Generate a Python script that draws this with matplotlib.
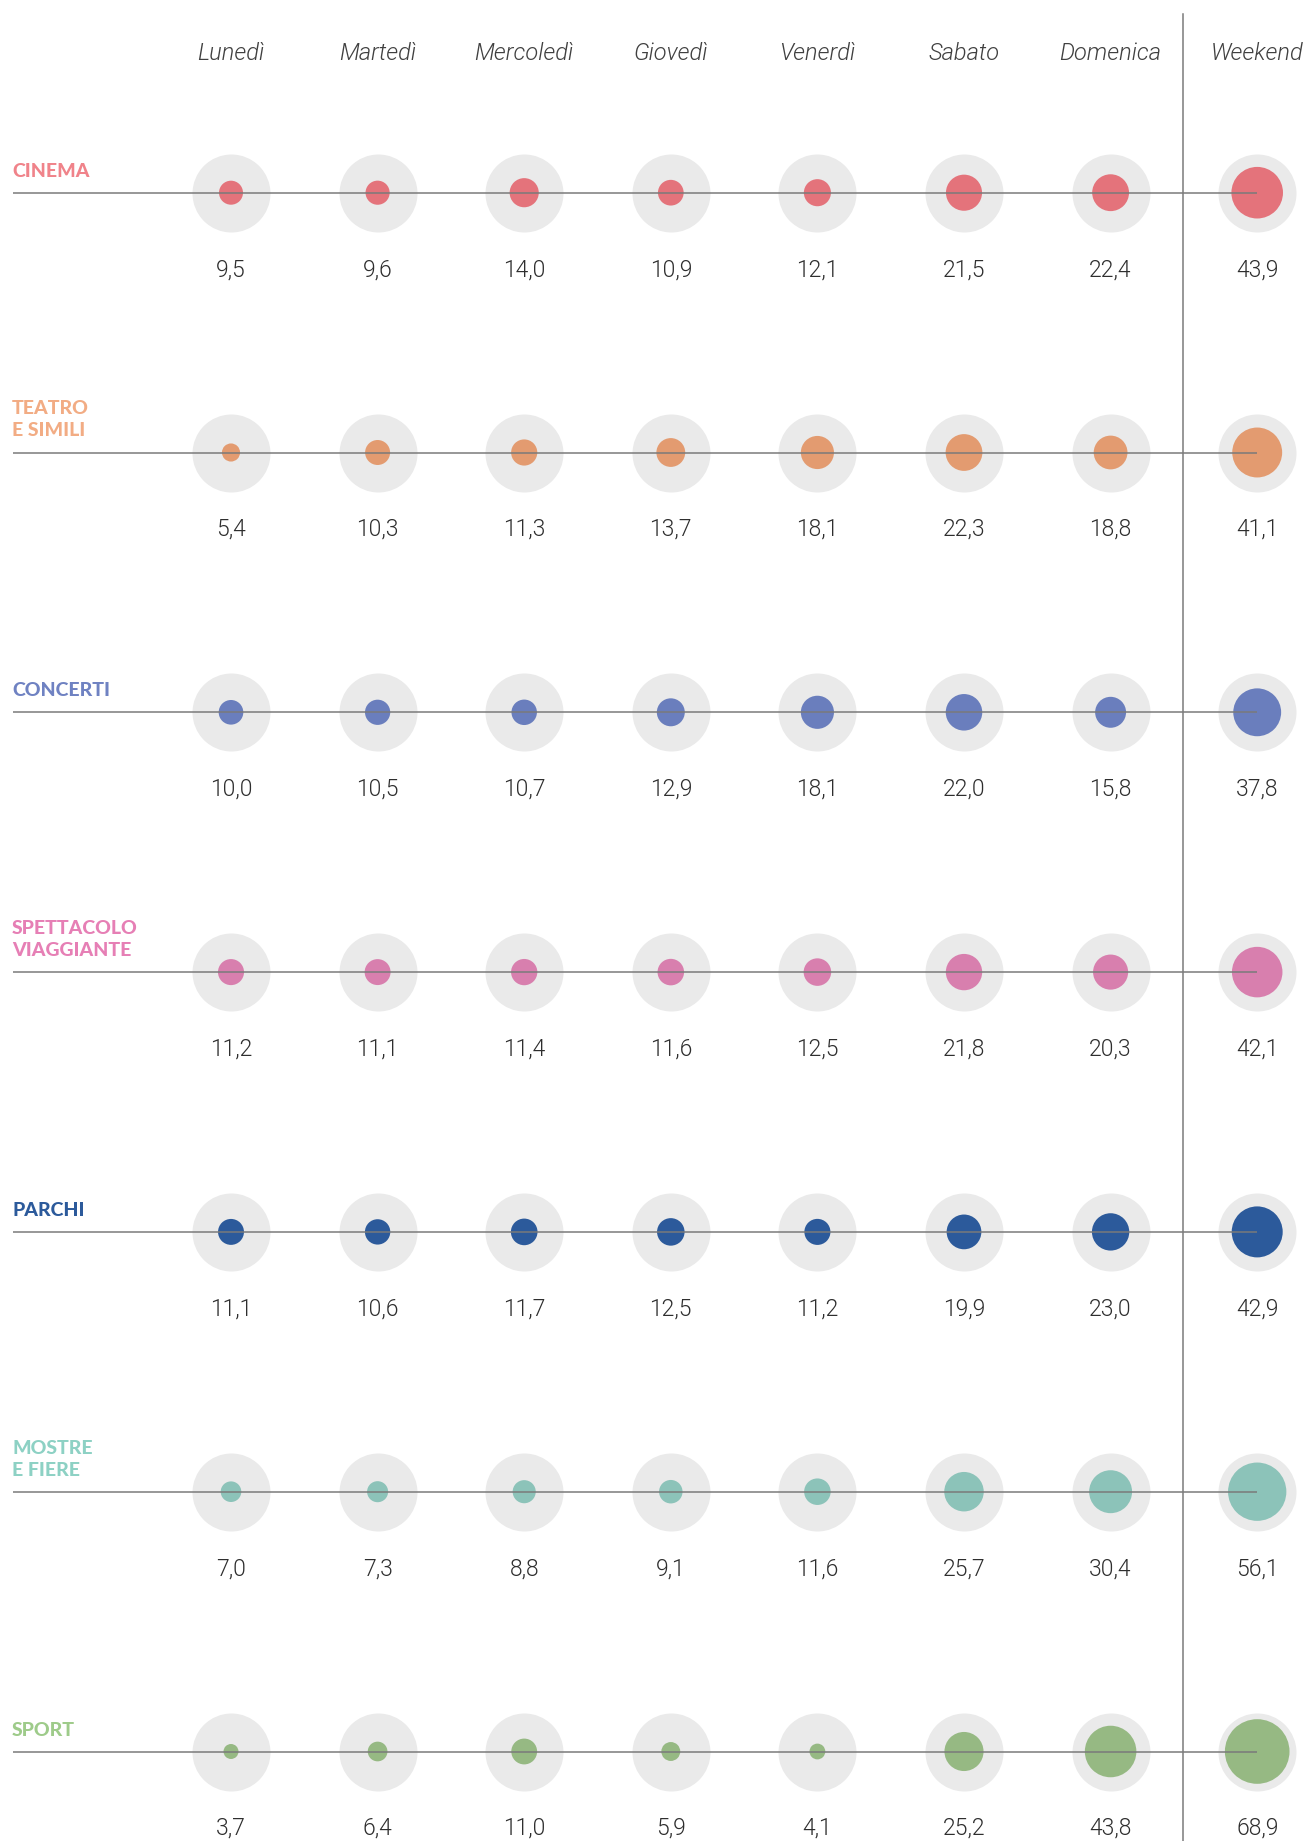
import matplotlib
matplotlib.use("Agg")
import matplotlib.pyplot as plt
import numpy as np

# giorni e categorie
days = ["Lunedì", "Martedì", "Mercoledì", "Giovedì", "Venerdì", "Sabato", "Domenica", "Weekend"]
categories = ["CINEMA", "TEATRO\nE SIMILI", "CONCERTI", "SPETTACOLO\nVIAGGIANTE",
              "PARCHI", "MOSTRE\nE FIERE", "SPORT"]

cinema = [9.5, 9.6, 14.0, 10.9, 12.1, 21.5, 22.4, 43.9]
teatro = [5.4, 10.3, 11.3, 13.7, 18.1, 22.3, 18.8, 41.1]
concerti = [10.0, 10.5, 10.7, 12.9, 18.1, 22.0, 15.8, 37.8]
spettacolo = [11.2, 11.1, 11.4, 11.6, 12.5, 21.8, 20.3, 42.1]
parchi = [11.1, 10.6, 11.7, 12.5, 11.2, 19.9, 23.0, 42.9]
mostre = [7.0, 7.3, 8.8, 9.1, 11.6, 25.7, 30.4, 56.1]
sport = [3.7, 6.4, 11.0, 5.9, 4.1, 25.2, 43.8, 68.9]
series = [cinema, teatro, concerti, spettacolo, parchi, mostre, sport]

dot_colors = ["#e4737b", "#e39b70", "#6a7ebd", "#d87fae", "#2c5a9b", "#8cc3b9", "#96b983"]
label_colors = ["#f0838a", "#f2ac84", "#6f82c2", "#e67fb5", "#2c5a9b", "#8dd1c4", "#9ecb8a"]

W, H = 1307, 1841
DPI = 100
x0_px, dx_px = 231.0, 146.6     # centro prima colonna, passo colonne
y0_px, dy_px = 192.7, 259.8     # centro prima riga, passo righe
px2pt = 72 / DPI

fig = plt.figure(figsize=(W / DPI, H / DPI), dpi=DPI)
ax = fig.add_axes([0, 0, 1, 1])
ax.set_xlim(-x0_px / dx_px, (W - x0_px) / dx_px)
ax.set_ylim((H - y0_px) / dy_px, -y0_px / dy_px)
ax.axis("off")

def px_x(p):
    return (p - x0_px) / dx_px

def px_y(p):
    return p / dy_px

xs = np.arange(len(days))
k = 12.0 / np.sqrt(9.5)   # raggio in px per radice del valore
bg_r = 39.0

for i, (vals, col, lcol, name) in enumerate(zip(series, dot_colors, label_colors, categories)):
    ys = np.full(len(days), i)
    ax.scatter(xs, ys, s=(2 * bg_r * px2pt) ** 2, color="#eaeaea", lw=0, zorder=1)
    r = k * np.sqrt(np.array(vals))
    ax.scatter(xs, ys, s=(2 * r * px2pt) ** 2, color=col, lw=0, zorder=2)
    ax.plot([px_x(13), xs[-1]], [i, i], color="#7a7a7a", lw=1.1, zorder=3,
            solid_capstyle="butt")
    for x, v in zip(xs, vals):
        ax.text(x, i + px_y(77), f"{v:.1f}".replace(".", ","), ha="center", va="center",
                fontsize=16.5, family="Roboto", weight=300, color="#2e2e2e")
    lines = name.split("\n")
    for j, ln in enumerate(lines):
        off = 16 + 22 * (len(lines) - 1 - j)
        ax.text(px_x(12), i - px_y(off), ln, ha="left", va="baseline", fontsize=14,
                family="Lato", weight="black", color=lcol)

for x, d in zip(xs, days):
    ax.text(x, px_y(53 - y0_px), d, ha="center", va="center", fontsize=17,
            family="Roboto", weight=300, style="italic", color="#404040")

ax.axvline(px_x(1183.3), ymin=0, ymax=1 - 14 / H, color="#7a7a7a", lw=1.1, zorder=3)

fig.savefig("out.png", dpi=DPI)
